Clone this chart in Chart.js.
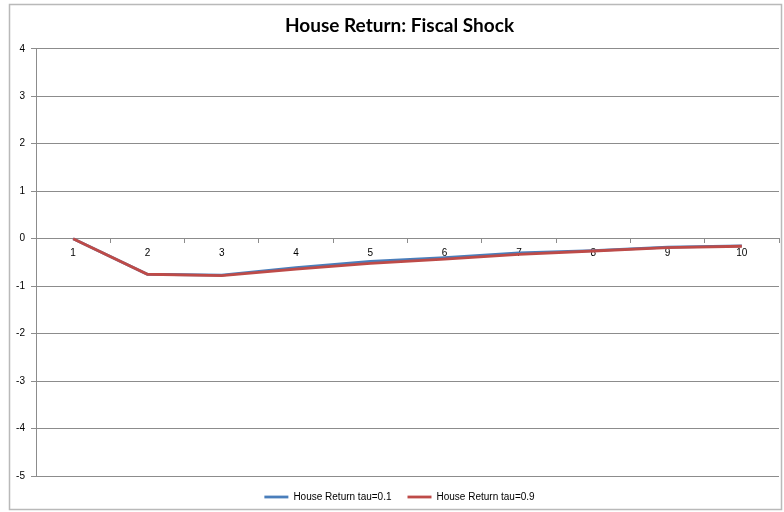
<!DOCTYPE html>
<html>
<head>
<meta charset="utf-8">
<script src="https://cdn.jsdelivr.net/npm/chart.js@4.4.1/dist/chart.umd.min.js"></script>
<style>
  html, body { margin: 0; padding: 0; background: #ffffff; }
  #wrap { width: 784px; height: 512px; position: relative; }
</style>
</head>
<body>
<div id="wrap"><canvas id="c" width="784" height="512"></canvas></div>
<script>
const categories = ['1', '2', '3', '4', '5', '6', '7', '8', '9', '10'];
const seriesTau01 = [0, -0.75, -0.77, -0.61, -0.48, -0.40, -0.30, -0.25, -0.18, -0.15];
const seriesTau09 = [0, -0.75, -0.78, -0.64, -0.52, -0.43, -0.33, -0.26, -0.19, -0.16];
const yTicks = [-5, -4, -3, -2, -1, 0, 1, 2, 3, 4];
const seriesNames = ['House Return tau=0.1', 'House Return tau=0.9'];
const titleText = 'House Return: Fiscal Shock';

const frame = {
  id: 'frame',
  afterLayout(chart) {
    const shift = 10;
    if (chart.titleBlock) { chart.titleBlock.left += shift; chart.titleBlock.right += shift; }
    if (chart.legend) { chart.legend.left += shift; chart.legend.right += shift; }
  },
  beforeDraw(chart) {
    const ctx = chart.ctx;
    ctx.save();
    ctx.fillStyle = '#ffffff';
    ctx.fillRect(0, 0, chart.width, chart.height);
    ctx.strokeStyle = '#b9b9b9';
    ctx.lineWidth = 1.5;
    ctx.strokeRect(9.5, 4.5, 772, 505);
    ctx.restore();
  }
};

new Chart(document.getElementById('c'), {
  type: 'line',
  data: {
    labels: categories,
    datasets: [
      {
        label: seriesNames[0],
        data: seriesTau01,
        borderColor: '#4a7ebb',
        backgroundColor: '#4a7ebb',
        borderWidth: 2.8,
        pointRadius: 0,
        tension: 0,
        order: 1
      },
      {
        label: seriesNames[1],
        data: seriesTau09,
        borderColor: '#be4b48',
        backgroundColor: '#be4b48',
        borderWidth: 2.8,
        pointRadius: 0,
        tension: 0,
        order: 0
      }
    ]
  },
  options: {
    responsive: false,
    animation: false,
    layout: { padding: { left: 0, right: 5, top: 0, bottom: 0 } },
    plugins: {
      title: {
        display: true,
        text: titleText,
        color: '#000000',
        font: { family: 'Lato', size: 19, weight: 'bold' },
        padding: { top: 14, bottom: 12 }
      },
      legend: {
        position: 'bottom',
        labels: {
          usePointStyle: true,
          pointStyle: 'line',
          pointStyleWidth: 24,
          color: '#000000',
          font: { family: 'Liberation Sans', size: 10 },
          padding: 16,
          sort: (a, b) => a.datasetIndex - b.datasetIndex
        }
      },
      tooltip: { enabled: false }
    },
    scales: {
      x: {
        type: 'category',
        position: { y: 0 },
        offset: true,
        grid: {
          display: true,
          drawOnChartArea: false,
          offset: true,
          tickLength: 4,
          color: '#8c8c8c'
        },
        border: { display: true, color: '#8c8c8c' },
        ticks: {
          color: '#000000',
          font: { family: 'Liberation Sans', size: 10 },
          padding: 5,
          maxRotation: 0,
          autoSkip: false
        }
      },
      y: {
        min: -5,
        max: 4,
        afterFit(scale) { scale.width = 36; },
        afterBuildTicks(scale) { scale.ticks = yTicks.map(v => ({ value: v })); },
        grid: {
          color: '#8c8c8c',
          tickLength: 5,
          drawTicks: true
        },
        border: { display: true, color: '#8c8c8c' },
        ticks: {
          color: '#000000',
          font: { family: 'Liberation Sans', size: 10 },
          padding: 6
        }
      }
    }
  },
  plugins: [frame]
});
</script>
</body>
</html>
